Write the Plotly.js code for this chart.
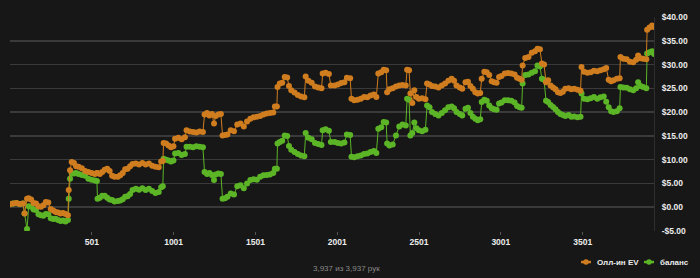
<!DOCTYPE html>
<html>
<head>
<meta charset="utf-8">
<script src="https://cdn.plot.ly/plotly-3.0.1.min.js"></script>
<style>
html,body{margin:0;padding:0;background:#171717;}
#chart{width:700px;height:278px;}
</style>
</head>
<body>
<div id="chart"></div>
<script>
// Hand numbers (x positions of sampled points)
const hands = [
  1,20,40,60,80,90,105,115,130,145,
  160,175,190,205,220,235,250,265,280,295,
  310,325,340,355,360,368,378,392,405,420,
  440,460,480,500,520,532,536,550,565,580,
  595,610,625,640,660,675,690,705,720,735,
  750,770,790,810,830,850,870,890,910,925,
  935,940,955,970,985,1000,1010,1030,1050,1070,
  1080,1100,1120,1140,1160,1180,1190,1205,1220,1235,
  1248,1258,1275,1290,1300,1315,1330,1350,1370,1390,
  1410,1430,1450,1470,1490,1510,1530,1550,1570,1590,
  1610,1620,1632,1636,1650,1665,1680,1695,1706,1720,
  1740,1760,1780,1800,1808,1825,1845,1865,1885,1905,
  1912,1930,1950,1962,1985,2005,2025,2045,2060,2080,
  2088,2105,2125,2145,2165,2185,2205,2225,2240,2252,
  2270,2285,2300,2306,2320,2340,2360,2380,2400,2420,
  2428,2440,2448,2460,2472,2485,2500,2520,2540,2550,
  2565,2580,2600,2620,2640,2660,2680,2700,2715,2730,
  2750,2765,2785,2800,2815,2830,2845,2860,2875,2884,
  2900,2915,2930,2945,2960,2975,2990,3005,3025,3045,
  3065,3085,3100,3115,3128,3134,3150,3170,3190,3210,
  3225,3240,3252,3265,3277,3290,3305,3320,3335,3350,
  3365,3380,3395,3415,3432,3450,3470,3488,3494,3510,
  3530,3550,3570,3590,3610,3630,3645,3660,3675,3690,
  3710,3727,3732,3750,3770,3790,3810,3828,3840,3855,
  3870,3890,3895,3910,3925,3937
];

// "Олл-ин EV" series ($)
const allinEV = [
  0.6,0.8,0.9,0.7,0.8,-1.3,1.8,1.9,1.6,0.9,
  0.8,0.2,0.1,0.4,1.1,1.0,-0.4,-0.7,-1.0,-1.1,
  -1.3,-1.2,-1.4,-1.7,3.6,7.8,9.5,9.3,8.6,8.5,
  8.2,7.6,7.4,7.2,7.0,7.2,7.2,7.0,7.4,7.9,
  8.1,7.6,6.6,6.4,6.4,6.7,7.2,8.0,8.1,8.6,
  9.1,9.2,9.0,9.3,9.0,9.2,8.7,8.5,8.4,9.6,
  9.7,13.5,13.4,13.0,12.6,12.8,14.4,14.6,14.3,14.7,
  16.2,15.9,15.8,15.7,15.9,15.8,19.5,19.8,19.3,19.6,
  17.6,19.2,19.5,19.6,15.1,15.2,15.3,16.2,16.0,17.4,
  17.6,17.0,18.0,18.6,18.9,19.0,19.2,19.5,19.7,19.8,
  19.9,21.2,21.2,25.3,26.0,26.2,27.4,27.3,25.5,24.6,
  24.1,23.6,23.3,23.1,27.5,26.6,26.2,25.4,25.2,25.0,
  28.1,28.3,28.0,25.6,25.6,25.8,26.1,26.3,27.2,27.1,
  22.8,22.5,22.6,22.8,23.2,23.1,23.5,23.7,23.2,28.1,
  28.4,28.9,28.8,24.2,24.8,25.0,25.4,25.6,25.7,25.6,
  28.9,28.8,23.9,21.9,24.6,23.2,22.8,22.9,22.7,26.0,
  25.8,25.5,25.4,25.2,25.6,26.0,26.6,27.0,26.6,25.6,
  25.2,24.9,26.3,26.4,25.5,24.9,24.2,23.9,24.0,27.0,
  28.5,28.4,27.8,26.5,26.3,26.2,27.4,27.6,28.1,28.2,
  28.1,27.9,27.2,27.0,26.8,29.8,31.4,31.6,32.5,32.8,
  33.3,33.2,30.2,30.0,26.3,26.7,25.6,25.2,24.8,24.2,
  24.0,24.3,24.9,25.0,24.8,24.9,24.7,24.5,29.5,28.5,
  28.3,28.4,28.7,28.6,28.8,29.0,29.3,26.8,26.5,26.7,
  27.0,27.1,31.6,31.2,31.1,30.6,30.5,31.0,31.9,31.3,
  31.2,31.1,37.3,37.8,38.2,37.9
];

// "баланс" series ($)
const balance = [
  0.6,0.8,0.9,0.7,0.8,-1.3,-4.6,0.2,0.1,-0.5,
  -0.6,-1.5,-1.7,-1.8,-1.4,-1.5,-2.3,-2.5,-2.4,-2.7,
  -2.9,-2.8,-3.0,-2.7,1.8,6.0,7.1,7.1,7.2,7.0,
  6.8,6.6,6.0,5.8,5.6,5.5,1.8,2.0,2.4,2.4,
  2.0,1.6,1.5,1.2,1.3,1.4,1.7,2.2,2.3,2.8,
  3.6,3.9,3.7,4.0,3.6,3.9,3.4,3.0,3.2,4.2,
  4.4,10.2,10.0,9.8,9.6,9.8,11.3,11.4,11.0,11.2,
  12.7,12.7,12.6,12.8,12.7,12.6,7.4,7.0,7.2,6.8,
  5.7,6.9,7.1,7.0,1.8,1.9,2.2,2.9,2.7,4.4,
  4.6,4.0,5.0,5.7,5.9,5.8,6.4,6.7,6.8,6.9,
  7.2,8.1,8.1,13.4,13.7,14.0,15.1,15.0,12.9,12.1,
  11.6,11.2,10.9,10.7,15.6,14.6,14.3,13.5,13.3,13.1,
  16.2,16.4,16.1,13.7,13.7,13.5,13.4,13.6,15.3,15.2,
  10.6,10.5,10.7,10.9,11.2,11.3,11.6,11.8,11.4,16.5,
  16.8,17.9,17.8,13.4,13.0,13.2,15.1,17.0,17.4,17.2,
  22.8,22.6,15.1,15.6,17.8,16.6,16.2,16.0,16.3,21.4,
  21.0,20.0,19.6,19.3,19.8,20.4,21.0,21.2,20.8,20.0,
  19.6,19.3,20.7,20.9,19.8,19.0,18.6,18.3,18.5,22.1,
  22.6,22.4,21.4,20.8,20.6,20.5,21.8,22.0,22.5,22.5,
  22.4,22.0,21.3,21.0,20.9,26.0,27.8,27.9,28.3,28.6,
  29.8,29.6,27.0,26.8,22.4,22.1,21.5,21.1,20.6,20.0,
  19.6,19.4,19.2,19.4,19.0,19.1,18.9,19.0,23.9,22.8,
  22.7,22.9,23.2,22.8,23.1,23.3,22.2,21.0,20.2,20.0,
  20.2,20.8,25.3,25.2,25.1,24.8,24.6,25.0,26.3,25.5,
  25.3,25.0,32.3,32.6,32.8,32.2
];

const seriesNames = ["Олл-ин EV", "баланс"];
const xTickVals = [501, 1001, 1501, 2001, 2501, 3001, 3501];
const xTickText = ["501", "1001", "1501", "2001", "2501", "3001", "3501"];
const yTickVals = [-5, 0, 5, 10, 15, 20, 25, 30, 35, 40];
const yTickText = ["-$5.00", "$0.00", "$5.00", "$10.00", "$15.00", "$20.00", "$25.00", "$30.00", "$35.00", "$40.00"];
const footerText = "3,937 из 3,937 рук";

const ORANGE = "#cf7d1f";
const GREEN = "#5bb526";
const FONT = "Liberation Sans, Arial, sans-serif";
const LABEL_FONT = {family: FONT, size: 8.5, color: "#ececec", weight: "bold"};
const LEGEND_FONT = {family: FONT, size: 8, color: "#ececec", weight: "bold"};

const traces = [
  {
    x: hands, y: balance, name: seriesNames[1],
    type: "scatter", mode: "lines+markers",
    line: {color: GREEN, width: 1},
    marker: {color: GREEN, size: 6, symbol: "circle"},
    showlegend: false
  },
  {
    x: hands, y: allinEV, name: seriesNames[0],
    type: "scatter", mode: "lines+markers",
    line: {color: ORANGE, width: 1},
    marker: {color: ORANGE, size: 6, symbol: "circle"},
    showlegend: false
  }
];

// Compact legend (symbol + label), drawn in paper coordinates
const LEG_Y = -0.145;
function legendSymbol(x0, x1, color) {
  const cx = (x0 + x1) / 2, rx = 0.0043, ry = 0.0128;
  return [
    {type: "line", xref: "paper", yref: "paper", x0: x0, x1: x1, y0: LEG_Y, y1: LEG_Y,
     line: {color: color, width: 2.5}},
    {type: "circle", xref: "paper", yref: "paper", x0: cx - rx, x1: cx + rx,
     y0: LEG_Y - ry, y1: LEG_Y + ry, fillcolor: color, line: {color: color, width: 0}}
  ];
}

const layout = {
  width: 700, height: 278,
  margin: {l: 10, r: 46, t: 17, b: 47},
  paper_bgcolor: "#171717",
  plot_bgcolor: "#171717",
  font: {family: FONT, color: "#e0e0e0", size: 9},
  showlegend: false,
  xaxis: {
    range: [1, 3937], tickvals: xTickVals, ticktext: xTickText,
    showgrid: false, zeroline: false, showline: false,
    ticks: "outside", ticklen: 3, tickcolor: "#555555",
    tickfont: LABEL_FONT, fixedrange: true
  },
  yaxis: {
    range: [-5, 40], side: "right", tickvals: yTickVals, ticktext: yTickText,
    showgrid: true, gridcolor: "#3a3a3a", gridwidth: 1.5,
    zeroline: false, showline: true, linecolor: "#2e2e2e", linewidth: 1,
    ticks: "", tickfont: LABEL_FONT,
    ticklabelstandoff: 5, fixedrange: true
  },
  shapes: [].concat(
    legendSymbol(0.8866, 0.9022, ORANGE),
    legendSymbol(0.9845, 1.0000, GREEN)
  ),
  annotations: [
    {text: seriesNames[0], xref: "paper", yref: "paper", x: 0.9084, y: LEG_Y,
     xanchor: "left", yanchor: "middle", showarrow: false, font: LEGEND_FONT},
    {text: seriesNames[1], xref: "paper", yref: "paper", x: 1.0062, y: LEG_Y,
     xanchor: "left", yanchor: "middle", showarrow: false, font: LEGEND_FONT},
    {text: footerText, xref: "paper", yref: "paper",
     x: 0.523, y: -0.173, xanchor: "center", yanchor: "middle",
     showarrow: false, font: {family: FONT, size: 8, color: "#8a8a8a"}}
  ],
  hovermode: false
};

Plotly.newPlot("chart", traces, layout, {displayModeBar: false, staticPlot: true});
</script>
</body>
</html>
